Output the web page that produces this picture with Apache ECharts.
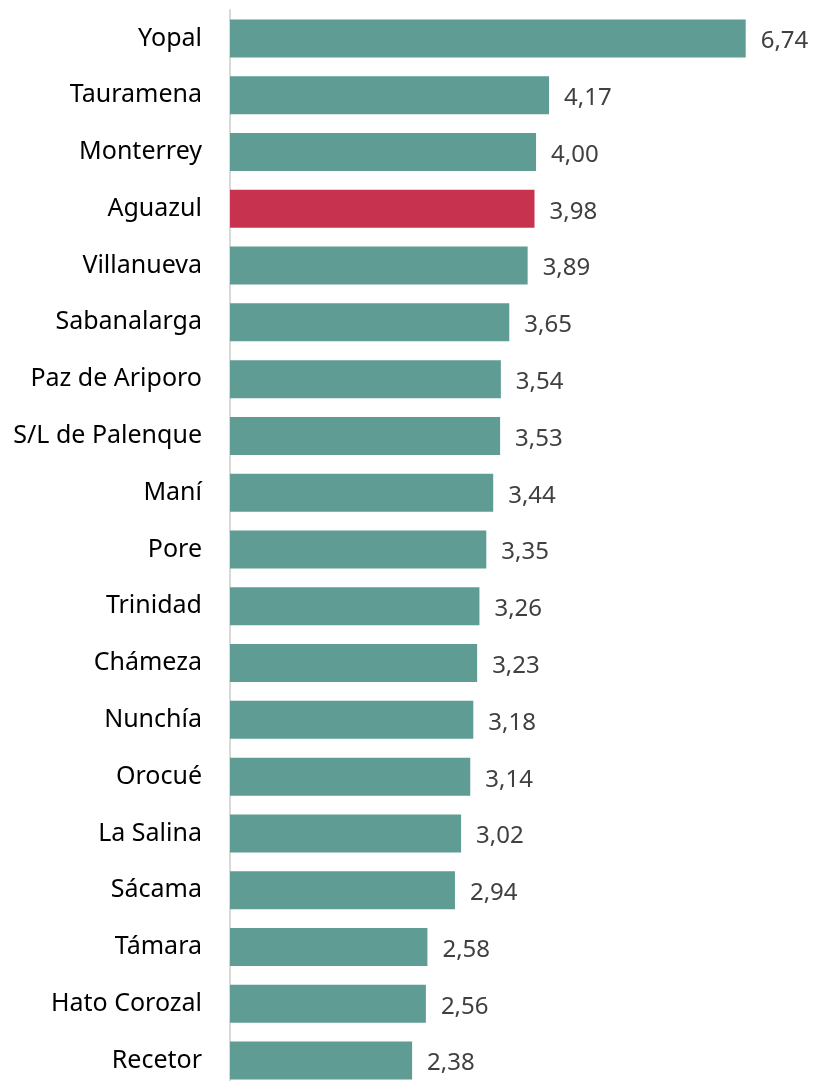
<!DOCTYPE html>
<html>
<head>
<meta charset="utf-8">
<script src="https://cdn.jsdelivr.net/npm/echarts@6/dist/echarts.min.js"></script>
<style>
  html, body { margin: 0; padding: 0; background: #fff; }
  #chart { width: 818px; height: 1081px; }
</style>
</head>
<body>
<div id="chart"></div>
<script>
// municipios, de arriba hacia abajo
var categories = ["Yopal", "Tauramena", "Monterrey", "Aguazul", "Villanueva", "Sabanalarga",
  "Paz de Ariporo", "S/L de Palenque", "Maní", "Pore", "Trinidad", "Chámeza", "Nunchía",
  "Orocué", "La Salina", "Sácama", "Támara", "Hato Corozal", "Recetor"];
var values = [6.74, 4.17, 4.00, 3.98, 3.89, 3.65, 3.54, 3.53, 3.44, 3.35, 3.26, 3.23, 3.18,
  3.14, 3.02, 2.94, 2.58, 2.56, 2.38];
var highlight = "Aguazul";

var baseColor = "#5E9C94";
var highColor = "#C7334F";
var font = "'Noto Sans', 'Open Sans', sans-serif";

var chart = echarts.init(document.getElementById("chart"));

var barData = values.map(function (v, i) {
  return {
    value: v,
    itemStyle: { color: categories[i] === highlight ? highColor : baseColor }
  };
});

chart.setOption({
  animation: false,
  grid: { left: 230, top: 10, width: 535.6, height: 1079, outerBoundsMode: "none", containLabel: false },
  xAxis: {
    type: "value",
    min: 0,
    max: 7,
    show: false
  },
  yAxis: {
    type: "category",
    data: categories,
    inverse: true,
    axisLine: { show: true, lineStyle: { color: "#D9D9D9", width: 2 } },
    axisTick: { show: false },
    axisLabel: {
      color: "#000",
      fontSize: 25,
      fontFamily: font,
      margin: 28
    }
  },
  series: [{
    type: "bar",
    data: barData,
    barWidth: 38,
    label: {
      show: true,
      position: "right",
      distance: 15,
      offset: [0, 3],
      color: "#404040",
      fontSize: 24,
      fontFamily: font,
      formatter: function (p) { return p.value.toFixed(2).replace(".", ","); }
    }
  }]
});
</script>
</body>
</html>
